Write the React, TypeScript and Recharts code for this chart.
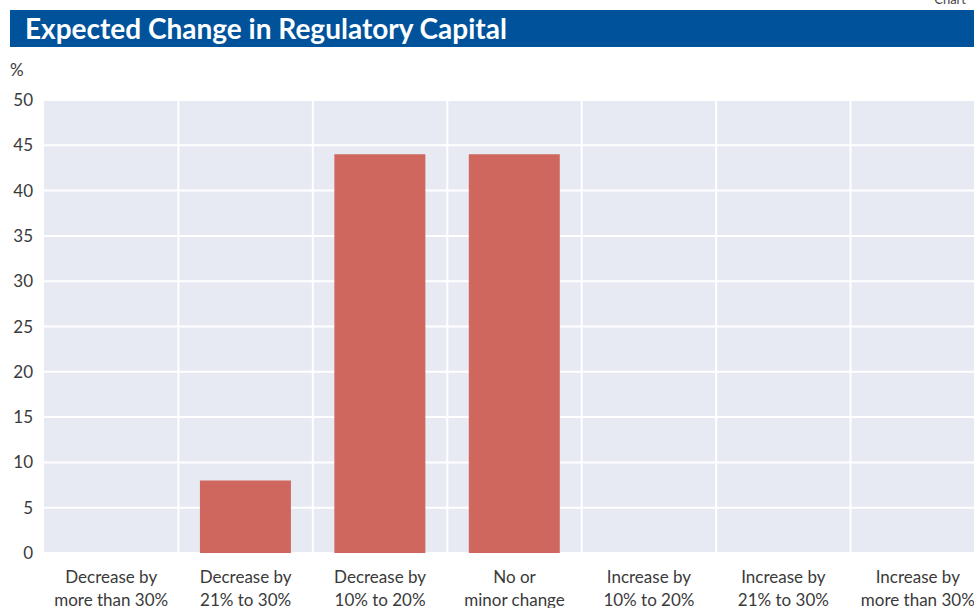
import { Bar, BarChart, CartesianGrid, XAxis, YAxis } from "recharts";

const categories = [
  "Decrease by\nmore than 30%",
  "Decrease by\n21% to 30%",
  "Decrease by\n10% to 20%",
  "No or\nminor change",
  "Increase by\n10% to 20%",
  "Increase by\n21% to 30%",
  "Increase by\nmore than 30%",
];
const shares = [0, 8, 44, 44, 0, 0, 0];
const yTicks = [0, 5, 10, 15, 20, 25, 30, 35, 40, 45, 50];

const data = categories.map((label, i) => ({ label, value: shares[i] }));

const FONT = "Lato, 'Open Sans', sans-serif";

function CategoryTick({ x, y, payload }: any) {
  const lines = String(payload.value).split("\n");
  return (
    <text x={x} y={y} textAnchor="middle" fill="#3a3a3a" fontSize={17} fontFamily={FONT}>
      {lines.map((line, i) => (
        <tspan key={i} x={x} dy={i === 0 ? 22 : 23}>
          {line}
        </tspan>
      ))}
    </text>
  );
}

function ValueTick({ y, payload }: any) {
  return (
    <text x={33} y={y} dy={6} textAnchor="end" fill="#3a3a3a" fontSize={17} fontFamily={FONT}>
      {payload.value}
    </text>
  );
}

export default function App() {
  return (
    <div style={{ position: "fixed", left: 0, top: 0, width: 974, height: 608, overflow: "hidden", background: "#fff", fontFamily: FONT }}>
      <div style={{ position: "absolute", right: 8, top: -9, fontSize: 13, color: "#444" }}>Chart</div>
      <div
        style={{
          position: "absolute",
          left: 10,
          top: 10,
          width: 964,
          height: 37,
          background: "#00539B",
          color: "#fff",
          fontWeight: 700,
          fontSize: 28,
          lineHeight: "37px",
          paddingLeft: 15,
          boxSizing: "border-box",
        }}
      >
        Expected Change in Regulatory Capital
      </div>
      <div style={{ position: "absolute", left: 10, top: 59, fontSize: 17, color: "#3a3a3a" }}>%</div>
      <div style={{ position: "absolute", left: 0, top: 0 }}>
        <BarChart width={1000} height={608} data={data} margin={{ top: 100, right: 15, left: 4, bottom: 0 }} barCategoryGap="16%">
          <CartesianGrid
            fill="#E7EAF3"
            stroke="#ffffff"
            strokeWidth={2}
            verticalCoordinatesGenerator={({ offset }: any) =>
              categories.slice(1).map((_, i) => offset.left + ((i + 1) * offset.width) / categories.length)
            }
          />
          <XAxis dataKey="label" height={55} axisLine={false} tickLine={false} interval={0} tick={<CategoryTick />} />
          <YAxis width={40} domain={[0, 50]} ticks={yTicks} axisLine={false} tickLine={false} tick={<ValueTick />} />
          <Bar dataKey="value" fill="#CF675E" isAnimationActive={false} />
        </BarChart>
      </div>
    </div>
  );
}
